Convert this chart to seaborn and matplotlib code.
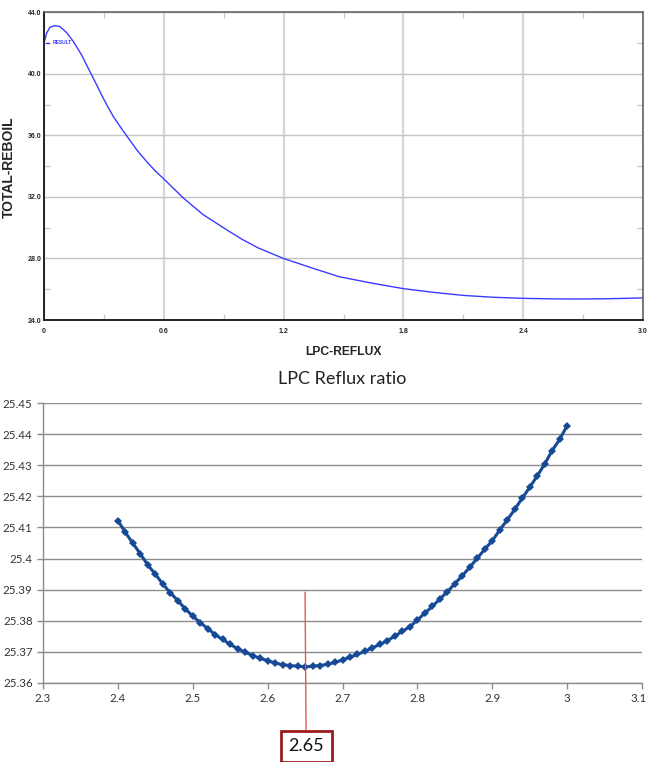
import numpy as np
import pandas as pd
import matplotlib
matplotlib.use("Agg")
import matplotlib.pyplot as plt
import matplotlib.transforms as mtransforms
import seaborn as sns
from matplotlib.ticker import FixedLocator, FuncFormatter

# ---------------- data ----------------
# Top chart: TOTAL-REBOIL vs LPC-REFLUX
reflux_x = [0.0, 0.013, 0.03, 0.055, 0.08, 0.113, 0.147, 0.188, 0.23, 0.26, 0.288,
            0.317, 0.347, 0.385, 0.422, 0.465, 0.513, 0.555, 0.6, 0.697, 0.797, 0.913, 0.99,
            1.072, 1.2, 1.35, 1.48, 1.65, 1.8, 1.95, 2.1, 2.25, 2.4, 2.55, 2.65, 2.8, 2.9, 3.0]
reboil_y = [42.0, 42.64, 43.03, 43.13, 43.07, 42.68, 42.1, 41.23, 40.15, 39.38, 38.64,
            37.92, 37.23, 36.50, 35.83, 35.05, 34.31, 33.72, 33.17, 31.94, 30.85, 29.88, 29.26,
            28.69, 28.0, 27.35, 26.81, 26.38, 26.04, 25.80, 25.60, 25.48, 25.41, 25.375, 25.365, 25.38, 25.405, 25.44]
top_xticks = [0, 0.6, 1.2, 1.8, 2.4, 3.0]
top_xtick_labels = ["0", "0.6", "1.2", "1.8", "2.4", "3.0"]
top_yticks = [24.0, 28.0, 32.0, 36.0, 40.0, 44.0]
top_ytick_labels = ["24.0", "28.0", "32.0", "36.0", "40.0", "44.0"]

# Bottom chart: LPC Reflux ratio zoom (2.40 .. 3.00 step 0.01)
ratio_x = [2.40, 2.41, 2.42, 2.43, 2.44, 2.45, 2.46, 2.47, 2.48, 2.49,
           2.50, 2.51, 2.52, 2.53, 2.54, 2.55, 2.56, 2.57, 2.58, 2.59,
           2.60, 2.61, 2.62, 2.63, 2.64, 2.65, 2.66, 2.67, 2.68, 2.69,
           2.70, 2.71, 2.72, 2.73, 2.74, 2.75, 2.76, 2.77, 2.78, 2.79,
           2.80, 2.81, 2.82, 2.83, 2.84, 2.85, 2.86, 2.87, 2.88, 2.89,
           2.90, 2.91, 2.92, 2.93, 2.94, 2.95, 2.96, 2.97, 2.98, 2.99, 3.00]
ratio_y = [25.4122, 25.4084, 25.4049, 25.4015, 25.3979, 25.3950, 25.3918, 25.3890, 25.3865, 25.3838,
           25.3815, 25.3794, 25.3775, 25.3755, 25.3740, 25.3724, 25.3710, 25.3699, 25.3688, 25.3679,
           25.3672, 25.3664, 25.3659, 25.3656, 25.3654, 25.3652, 25.3654, 25.3656, 25.3660, 25.3666,
           25.3674, 25.3683, 25.3692, 25.3702, 25.3713, 25.3724, 25.3736, 25.3751, 25.3766, 25.3781,
           25.3802, 25.3825, 25.3846, 25.3870, 25.3893, 25.3919, 25.3945, 25.3972, 25.4001, 25.4030,
           25.4057, 25.4092, 25.4124, 25.4158, 25.4194, 25.4229, 25.4265, 25.4304, 25.4347, 25.4383, 25.4427]
bottom_xticks = [2.3, 2.4, 2.5, 2.6, 2.7, 2.8, 2.9, 3.0, 3.1]
bottom_yticks = [25.36, 25.37, 25.38, 25.39, 25.40, 25.41, 25.42, 25.43, 25.44, 25.45]
optimum_x = 2.65
optimum_label = "2.65"
optimum_line_top = 25.3892

top_df = pd.DataFrame({"LPC-REFLUX": reflux_x, "TOTAL-REBOIL": reboil_y})
bot_df = pd.DataFrame({"ratio": ratio_x, "reboil": ratio_y})

# ---------------- style ----------------
sns.set_theme(style="white")
plt.rcParams["font.family"] = ["Liberation Sans", "DejaVu Sans"]

fig = plt.figure(figsize=(6.48, 7.62), dpi=100)

# ---------------- top chart ----------------
ax1 = fig.add_axes([0.0679, 0.580, 0.9244, 0.4039])
sns.lineplot(data=top_df, x="LPC-REFLUX", y="TOTAL-REBOIL", ax=ax1,
             color="#3b3bff", linewidth=1.0, label="RESULT", sort=False)
ax1.set_xlim(0, 3.0)
ax1.set_ylim(24.0, 44.0)
ax1.xaxis.set_major_locator(FixedLocator(top_xticks))
ax1.yaxis.set_major_locator(FixedLocator(top_yticks))
ax1.set_xticklabels(top_xtick_labels, fontsize=5, fontweight="bold")
ax1.set_yticklabels(top_ytick_labels, fontsize=5, fontweight="bold")
ax1.xaxis.set_minor_locator(FixedLocator([0.3, 0.9, 1.5, 2.1, 2.7]))
ax1.yaxis.set_minor_locator(FixedLocator([26, 30, 34, 38, 42]))
ax1.tick_params(axis="x", which="major", length=0, pad=6)
ax1.tick_params(axis="y", which="major", length=0, pad=2)
ax1.tick_params(which="minor", direction="in", length=4, width=1, color="#c8c8c8",
                top=True, right=True, bottom=True, left=True)
ax1.grid(True, axis="y", color="#c4c4c4", linewidth=1.0)
ax1.grid(True, axis="x", color="#d6d6d6", linewidth=1.6)
for side in ["left", "bottom"]:
    ax1.spines[side].set_color("#222222")
    ax1.spines[side].set_linewidth(1.4)
for side in ["top", "right"]:
    ax1.spines[side].set_color("#666666")
    ax1.spines[side].set_linewidth(1.2)
ax1.set_xlabel("LPC-REFLUX", fontsize=8.7, fontweight="bold", labelpad=8)
ax1.set_ylabel("TOTAL-REBOIL", fontsize=10, fontweight="bold")
ax1.yaxis.set_label_coords(-0.047, 0.497)
leg = ax1.legend(loc="upper left", bbox_to_anchor=(0.0, 0.915), frameon=False,
                 handlelength=0.6, handletextpad=0.8, borderaxespad=0.0,
                 prop={"size": 3.5, "weight": "bold"}, labelcolor="#3b3bff")

# ---------------- bottom chart ----------------
plt.rcParams["font.family"] = ["Lato", "DejaVu Sans"]
ax2 = fig.add_axes([0.0664, 0.1037, 0.9243, 0.3674])
sns.lineplot(data=bot_df, x="ratio", y="reboil", ax=ax2, color="#174a96",
             linewidth=2.2, marker="D", markersize=4.4, markeredgewidth=0,
             sort=False)
ax2.set_xlim(2.3, 3.1)
ax2.set_ylim(25.36, 25.45)
ax2.xaxis.set_major_locator(FixedLocator(bottom_xticks))
ax2.yaxis.set_major_locator(FixedLocator(bottom_yticks))
ax2.xaxis.set_major_formatter(FuncFormatter(lambda v, p: f"{v:.1f}".rstrip("0").rstrip(".")))
ax2.yaxis.set_major_formatter(FuncFormatter(lambda v, p: f"{v:.2f}".rstrip("0").rstrip(".")))
ax2.tick_params(axis="both", which="major", direction="out", length=4, width=1,
                color="#8c8c8c", labelsize=8.3, labelcolor="#333333")
ax2.tick_params(axis="both", left=True, bottom=True)
ax2.grid(True, axis="y", color="#8c8c8c", linewidth=1.0)
ax2.grid(False, axis="x")
for side in ["top", "right"]:
    ax2.spines[side].set_visible(False)
for side in ["left", "bottom"]:
    ax2.spines[side].set_color("#8c8c8c")
    ax2.spines[side].set_linewidth(1.0)
ax2.set_xlabel("")
ax2.set_ylabel("")
ax2.set_title("LPC Reflux ratio", fontsize=13, color="#222222", pad=14)

ax2.annotate(optimum_label, xy=(optimum_x, optimum_line_top), xycoords="data",
             xytext=(0.8, -111), textcoords="offset points",
             ha="center", va="center", fontsize=13, color="#111111",
             bbox=dict(boxstyle="square,pad=0.42", fc="white", ec="#9c1c1c", lw=2.0),
             arrowprops=dict(arrowstyle="-", color="#e05a5a", lw=1.0,
                             shrinkA=0, shrinkB=0),
             annotation_clip=False)

# keep the last x tick label ("3.1") inside the figure edge
fig.canvas.draw()
last_lab = ax2.xaxis.get_major_ticks()[-1].label1
last_lab.set_transform(last_lab.get_transform() +
                       mtransforms.ScaledTranslation(-3 / 100, 0, fig.dpi_scale_trans))

fig.savefig("out.png", dpi=100)
